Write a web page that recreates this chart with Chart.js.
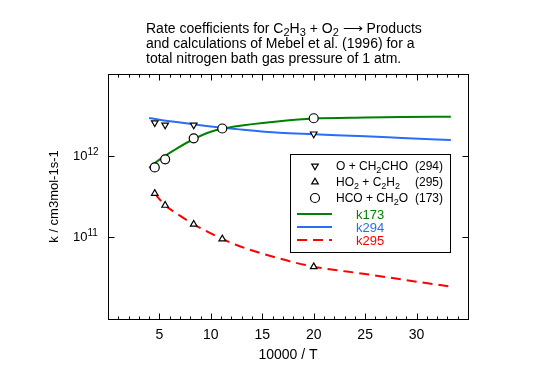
<!DOCTYPE html>
<html>
<head>
<meta charset="utf-8">
<script src="https://cdn.jsdelivr.net/npm/chart.js@4.4.1/dist/chart.umd.min.js"></script>
<style>
  body { margin: 0; background: #fff; }
</style>
</head>
<body>
<canvas id="rateChart" width="540" height="368"></canvas>
<script>
// 10000/T positions of the marker points (2200, 1800, 1200, 900, 500 K)
const markerX = [4.545, 5.556, 8.333, 11.11, 20];
const ch2choX = [4.545, 5.556, 8.333, 20];
const ch2choK = [2.63e12, 2.47e12, 2.47e12, 1.91e12];   // O + CH2CHO (294)
const c2h2K = [3.47e11, 2.46e11, 1.43e11, 9.4e10, 4.24e10]; // HO2 + C2H2 (295)
const ch2oK = [7.3e11, 9.2e11, 1.68e12, 2.23e12, 2.99e12];  // HCO + CH2O (173)

// fitted curves
const lineX = [4, 5, 6.67, 8.33, 10, 12.5, 16.67, 20, 25, 28.57, 33.33];
const k173 = [7.21e11, 9.12e11, 1.25e12, 1.65e12, 2.03e12, 2.38e12, 2.75e12, 2.97e12, 3.06e12, 3.10e12, 3.13e12];
const k294 = [3.02e12, 2.87e12, 2.68e12, 2.52e12, 2.36e12, 2.19e12, 1.97e12, 1.89e12, 1.78e12, 1.70e12, 1.60e12];
const k295X = [4.545, 5, 5.556, 6.67, 8.33, 10, 12.5, 16.67, 20, 25, 28.57, 33.33];
const k295 = [3.47e11, 2.94e11, 2.46e11, 1.95e11, 1.43e11, 1.10e11, 7.9e10, 5.36e10, 4.24e10, 3.44e10, 2.94e10, 2.39e10];

const xTickLabels = [5, 10, 15, 20, 25, 30];
const yTickExp = [11, 12];

const GREEN = '#008000';
const BLUE = '#2a6ef5';
const RED = '#ff0000';
const FONT = '"Liberation Sans", Arial, sans-serif';

const pts = (xs, ys) => xs.map((v, i) => ({ x: v, y: ys[i] }));

// text with sub/superscripts: runs of [text, 0 normal | 1 sub | 2 sup]
function textRuns(ctx, runs, x, y, size, color, align) {
  const small = Math.round(size * 0.78);
  const widths = runs.map(r => {
    ctx.font = (r[1] ? small : size) + 'px ' + FONT;
    return ctx.measureText(r[0]).width;
  });
  const total = widths.reduce((a, b) => a + b, 0);
  let cx = align === 'center' ? x - total / 2 : align === 'right' ? x - total : x;
  ctx.fillStyle = color;
  ctx.textAlign = 'left';
  ctx.textBaseline = 'alphabetic';
  runs.forEach((r, i) => {
    ctx.font = (r[1] ? small : size) + 'px ' + FONT;
    const dy = r[1] === 1 ? 3 : r[1] === 2 ? -5 : 0;
    ctx.fillText(r[0], cx, y + dy);
    cx += widths[i];
  });
}

function marker(ctx, style, x, y) {
  ctx.beginPath();
  if (style === 'circle') {
    ctx.arc(x, y, 4.5, 0, Math.PI * 2);
  } else {
    const s = style === 'down' ? -1 : 1;
    const r = 3.8;
    ctx.moveTo(x, y - s * r);
    ctx.lineTo(x + r * 0.866, y + s * r * 0.5);
    ctx.lineTo(x - r * 0.866, y + s * r * 0.5);
    ctx.closePath();
  }
  ctx.fillStyle = '#fff';
  ctx.fill();
  ctx.strokeStyle = '#000';
  ctx.lineWidth = 1.2;
  ctx.stroke();
}

const axesPlugin = {
  id: 'axesPlugin',
  afterDraw(chart) {
    const { ctx, chartArea: a, scales: { x, y } } = chart;
    ctx.save();
    ctx.strokeStyle = '#000';
    ctx.lineWidth = 1;
    const L = Math.round(a.left) + 0.5, R = Math.round(a.right) + 0.5;
    const T = Math.round(a.top) + 0.5, B = Math.round(a.bottom) + 0.5;
    ctx.strokeRect(L, T, R - L, B - T);

    // x ticks, every unit, longer on multiples of 5
    ctx.beginPath();
    for (let v = 1; v < 35; v++) {
      const px = Math.round(x.getPixelForValue(v)) + 0.5;
      const len = v % 5 === 0 ? 6 : 3;
      ctx.moveTo(px, B); ctx.lineTo(px, B - len);
      ctx.moveTo(px, T); ctx.lineTo(px, T + len);
    }
    // y ticks
    yTickExp.forEach(e => {
      const py = Math.round(y.getPixelForValue(Math.pow(10, e))) + 0.5;
      ctx.moveTo(L, py); ctx.lineTo(L + 6, py);
      ctx.moveTo(R, py); ctx.lineTo(R - 6, py);
    });
    ctx.stroke();

    // tick labels
    ctx.font = '14px ' + FONT;
    ctx.fillStyle = '#000';
    ctx.textAlign = 'center';
    ctx.textBaseline = 'alphabetic';
    xTickLabels.forEach(v => ctx.fillText(String(v), x.getPixelForValue(v), B + 19));
    yTickExp.forEach(e => {
      const py = y.getPixelForValue(Math.pow(10, e));
      textRuns(ctx, [['10', 0], [String(e), 2]], 73, py + 4, 13, '#000', 'left');
    });

    // axis titles
    ctx.font = '14px ' + FONT;
    ctx.fillStyle = '#000';
    ctx.textAlign = 'center';
    ctx.fillText('10000 / T', (a.left + a.right) / 2, 359);
    ctx.save();
    ctx.translate(58, (a.top + a.bottom) / 2);
    ctx.rotate(-Math.PI / 2);
    ctx.font = '13px ' + FONT;
    ctx.fillText('k / cm3mol-1s-1', 0, 0);
    ctx.restore();

    // title
    textRuns(ctx, [['Rate coefficients for C', 0], ['2', 1], ['H', 0], ['3', 1], [' + O', 0], ['2', 1], [' \u27F6 Products', 0]], 146, 33, 14, '#000', 'left');
    textRuns(ctx, [['and calculations of Mebel et al. (1996) for a', 0]], 146, 48, 14, '#000', 'left');
    textRuns(ctx, [['total nitrogen bath gas pressure of 1 atm.', 0]], 146, 63, 14, '#000', 'left');

    // legend
    ctx.fillStyle = '#fff';
    ctx.fillRect(290.5, 154.5, 160, 98);
    ctx.strokeStyle = '#000';
    ctx.lineWidth = 1;
    ctx.strokeRect(290.5, 154.5, 160, 98);
    const rows = [
      ['down', [['O + CH', 0], ['2', 1], ['CHO', 0]], '(294)'],
      ['up', [['HO', 0], ['2', 1], [' + C', 0], ['2', 1], ['H', 0], ['2', 1]], '(295)'],
      ['circle', [['HCO + CH', 0], ['2', 1], ['O', 0]], '(173)']
    ];
    rows.forEach((r, i) => {
      const yy = 166 + i * 16;
      marker(ctx, r[0], 315, yy);
      textRuns(ctx, r[1], 336, yy + 4, 12, '#000', 'left');
      textRuns(ctx, [[r[2], 0]], 415, yy + 4, 12, '#000', 'left');
    });
    const lines = [['k173', GREEN, []], ['k294', BLUE, []], ['k295', RED, [10, 6]]];
    lines.forEach((l, i) => {
      const yy = 214 + i * 13;
      ctx.beginPath();
      ctx.setLineDash(l[2]);
      ctx.strokeStyle = l[1];
      ctx.lineWidth = 2;
      ctx.moveTo(297, yy); ctx.lineTo(332, yy);
      ctx.stroke();
      ctx.setLineDash([]);
      textRuns(ctx, [[l[0], 0]], 356, yy + 5, 13, l[1], 'left');
    });
    ctx.restore();
  }
};

const pointOpts = { showLine: false, pointBackgroundColor: '#fff', pointBorderColor: '#000', pointBorderWidth: 1.2 };

new Chart(document.getElementById('rateChart'), {
  type: 'scatter',
  data: {
    datasets: [
      { data: pts(markerX, ch2oK), pointStyle: 'circle', pointRadius: 4.5, ...pointOpts },
      { data: pts(markerX, c2h2K), pointStyle: 'triangle', pointRadius: 3.8, ...pointOpts },
      { data: pts(ch2choX, ch2choK), pointStyle: 'triangle', rotation: 180, pointRadius: 3.8, ...pointOpts },
      { data: pts(lineX, k173), showLine: true, borderColor: GREEN, borderWidth: 2, pointRadius: 0, cubicInterpolationMode: 'monotone' },
      { data: pts(lineX, k294), showLine: true, borderColor: BLUE, borderWidth: 2, pointRadius: 0, cubicInterpolationMode: 'monotone' },
      { data: pts(k295X, k295), showLine: true, borderColor: RED, borderWidth: 2, borderDash: [10, 6], pointRadius: 0, cubicInterpolationMode: 'monotone' }
    ]
  },
  options: {
    responsive: false,
    animation: false,
    layout: { padding: { left: 108, top: 74, right: 72, bottom: 49 } },
    plugins: { legend: { display: false }, tooltip: { enabled: false } },
    scales: {
      x: { type: 'linear', min: 0, max: 35, display: false },
      y: { type: 'logarithmic', min: 9.46e9, max: 1.064e13, display: false }
    }
  },
  plugins: [axesPlugin]
});
</script>
</body>
</html>
